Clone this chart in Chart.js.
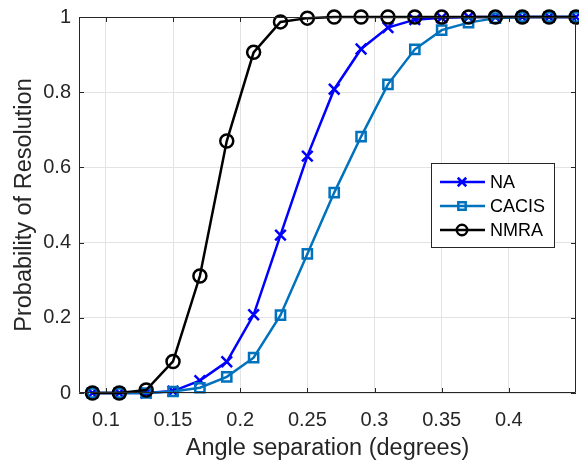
<!DOCTYPE html>
<html>
<head>
<meta charset="utf-8">
<script src="https://cdn.jsdelivr.net/npm/chart.js@4/dist/chart.umd.min.js"></script>
<style>
  html, body { margin: 0; padding: 0; background: #fff; }
  #wrap { width: 579px; height: 460px; }
</style>
</head>
<body>
<div id="wrap"><canvas id="chart" width="579" height="460"></canvas></div>
<script>
// angle separation values (degrees)
const angles = [0.09, 0.11, 0.13, 0.15, 0.17, 0.19, 0.21, 0.23, 0.25, 0.27,
                0.29, 0.31, 0.33, 0.35, 0.37, 0.39, 0.41, 0.43, 0.45];
const naValues    = [0, 0, 0, 0.005, 0.033, 0.083, 0.208, 0.42, 0.63, 0.808,
                     0.915, 0.972, 0.993, 0.998, 1, 1, 1, 1, 1];
const cacisValues = [0, 0, 0, 0.004, 0.014, 0.043, 0.094, 0.207, 0.37, 0.533,
                     0.682, 0.821, 0.914, 0.965, 0.985, 0.997, 1, 1, 1];
const nmraValues  = [0, 0, 0.008, 0.084, 0.311, 0.67, 0.906, 0.987, 0.997, 1,
                     1, 1, 1, 1, 1, 1, 1, 1, 1];
const seriesNames = ["NA", "CACIS", "NMRA"];
const xTicks = [0.1, 0.15, 0.2, 0.25, 0.3, 0.35, 0.4];
const yTicks = [0, 0.2, 0.4, 0.6, 0.8, 1];

const axisColor = "#262626";
const gridColor = "#e3e3e3";
const fontFamily = "'Liberation Sans', Arial, Helvetica, sans-serif";

function toPoints(values) {
  return values.map((v, i) => ({ x: angles[i], y: v }));
}

// MATLAB-style box, inward ticks and legend
const matlabBox = {
  id: "matlabBox",
  afterDatasetsDraw(chart) {
    const { ctx, chartArea: a, scales } = chart;
    ctx.save();
    ctx.strokeStyle = axisColor;
    ctx.lineWidth = 1;
    ctx.beginPath();
    ctx.rect(a.left + 0.5, a.top + 0.5, a.right - a.left - 1, a.bottom - a.top - 1);
    ctx.stroke();
    const tl = 5;
    ctx.beginPath();
    xTicks.forEach(t => {
      const px = Math.round(scales.x.getPixelForValue(t)) + 0.5;
      ctx.moveTo(px, a.bottom); ctx.lineTo(px, a.bottom - tl);
      ctx.moveTo(px, a.top); ctx.lineTo(px, a.top + tl);
    });
    yTicks.forEach(t => {
      const py = Math.round(scales.y.getPixelForValue(t)) + 0.5;
      ctx.moveTo(a.left, py); ctx.lineTo(a.left + tl, py);
      ctx.moveTo(a.right, py); ctx.lineTo(a.right - tl, py);
    });
    ctx.stroke();
    ctx.restore();
  },
  afterDraw(chart) {
    const { ctx } = chart;
    const bx = 431, by = 163, bw = 123, bh = 84;
    ctx.save();
    ctx.fillStyle = "#fff";
    ctx.fillRect(bx, by, bw, bh);
    ctx.strokeStyle = axisColor;
    ctx.lineWidth = 1;
    ctx.strokeRect(bx + 0.5, by + 0.5, bw, bh);
    chart.data.datasets.forEach((ds, i) => {
      const y = 182 + i * 24;
      ctx.strokeStyle = ds.borderColor;
      ctx.lineWidth = ds.borderWidth;
      ctx.beginPath();
      ctx.moveTo(440, y); ctx.lineTo(485, y);
      ctx.stroke();
      ctx.fillStyle = "transparent";
      Chart.helpers.drawPoint(ctx, {
        pointStyle: ds.pointStyle,
        radius: ds.pointRadius * 0.8,
        rotation: 0,
        borderWidth: ds.pointBorderWidth
      }, 462, y);
      ctx.fillStyle = "#000";
      ctx.font = "18px " + fontFamily;
      ctx.textAlign = "left";
      ctx.textBaseline = "middle";
      ctx.fillText(seriesNames[i], 490, y + 1);
    });
    ctx.restore();
  }
};

new Chart(document.getElementById("chart"), {
  type: "line",
  data: {
    datasets: [
      {
        label: seriesNames[0],
        data: toPoints(naValues),
        borderColor: "#0000ff",
        borderWidth: 2.5,
        pointStyle: "crossRot",
        pointRadius: 7.5,
        pointBorderWidth: 2.5,
        pointBorderColor: "#0000ff",
        pointBackgroundColor: "transparent",
        clip: false,
        order: 3
      },
      {
        label: seriesNames[1],
        data: toPoints(cacisValues),
        borderColor: "#0072bd",
        borderWidth: 2.5,
        pointStyle: "rect",
        pointRadius: 6.5,
        pointBorderWidth: 2.5,
        pointBorderColor: "#0072bd",
        pointBackgroundColor: "transparent",
        clip: false,
        order: 2
      },
      {
        label: seriesNames[2],
        data: toPoints(nmraValues),
        borderColor: "#000000",
        borderWidth: 2.5,
        pointStyle: "circle",
        pointRadius: 6.5,
        pointBorderWidth: 2.5,
        pointBorderColor: "#000000",
        pointBackgroundColor: "transparent",
        clip: false,
        order: 1
      }
    ]
  },
  options: {
    responsive: false,
    animation: false,
    layout: { autoPadding: false, padding: { top: 17, right: 3, left: 0, bottom: 0 } },
    plugins: { legend: { display: false }, tooltip: { enabled: false } },
    elements: { line: { tension: 0 } },
    scales: {
      x: {
        type: "linear",
        min: 0.08,
        max: 0.45,
        afterBuildTicks(scale) { scale.ticks = xTicks.map(v => ({ value: v })); },
        afterFit(scale) {
          scale.height = 67;
          scale.paddingLeft = 0;
          scale.paddingRight = 0;
        },
        ticks: {
          color: axisColor,
          font: { family: fontFamily, size: 20 },
          padding: 15,
          maxRotation: 0,
          callback: v => String(v)
        },
        grid: { color: gridColor, drawTicks: false },
        border: { display: false },
        title: {
          display: true,
          text: "Angle separation (degrees)",
          color: axisColor,
          font: { family: fontFamily, size: 23.5, lineHeight: 1 },
          padding: { top: 0, bottom: 0 }
        }
      },
      y: {
        type: "linear",
        min: 0,
        max: 1,
        afterBuildTicks(scale) { scale.ticks = yTicks.map(v => ({ value: v })); },
        afterFit(scale) {
          scale.width = 79;
          scale.paddingTop = 0;
          scale.paddingBottom = 0;
        },
        ticks: {
          color: axisColor,
          font: { family: fontFamily, size: 20 },
          padding: 8,
          callback: v => String(v)
        },
        grid: { color: gridColor, drawTicks: false },
        border: { display: false },
        title: {
          display: true,
          text: "Probability of Resolution",
          color: axisColor,
          font: { family: fontFamily, size: 23.5, lineHeight: 1 },
          padding: { top: 13, bottom: 0 }
        }
      }
    }
  },
  plugins: [matlabBox]
});
</script>
</body>
</html>
